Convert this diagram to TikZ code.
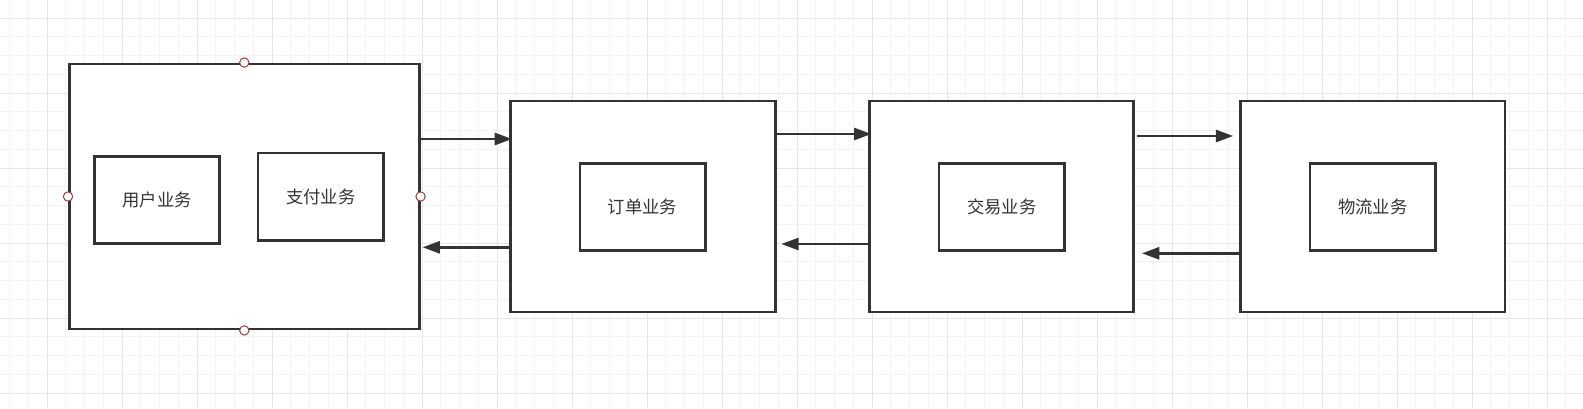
\documentclass[tikz,border=0pt]{standalone}
\usepackage{fontspec}
\setmainfont{Noto Sans CJK SC}
\usetikzlibrary{arrows.meta}

\definecolor{lineGray}{HTML}{333333}
\definecolor{gridMinor}{HTML}{F3F3F3}
\definecolor{gridMajor}{HTML}{E6E6E6}
\definecolor{handleRed}{HTML}{A8383E}

\begin{document}
\begin{tikzpicture}[x=0.75pt,y=-0.75pt,
	outerBox/.style={draw=lineGray, line width=1.9pt, fill=white, inner sep=0pt},
	innerBox/.style={draw=lineGray, line width=1.9pt, fill=white, inner sep=0pt,
		minimum width=94pt, minimum height=65.5pt, text=lineGray,
		font=\fontsize{13pt}{15pt}\selectfont},
	flow/.style={draw=lineGray, line width=1.9pt, -{Triangle[length=13pt,width=9pt]}},
	handle/.style={circle, draw=handleRed, fill=white, line width=0.75pt,
		minimum size=7pt, inner sep=0pt}]

\useasboundingbox (0,0) rectangle (1583,408);
\fill[white] (0,0) rectangle (1583,408);

% background grid
\foreach \k in {0,...,83}
	\draw[gridMinor, line width=0.75pt] ({9.5+\k*18.75},0) -- ({9.5+\k*18.75},408);
\foreach \k in {0,...,20}
	\draw[gridMinor, line width=0.75pt] (0,{18+\k*18.75}) -- (1583,{18+\k*18.75});
\foreach \k in {0,...,20}
	\draw[gridMajor, line width=0.75pt] ({47+\k*75},0) -- ({47+\k*75},408);
\foreach \k in {0,...,5}
	\draw[gridMajor, line width=0.75pt] (0,{18+\k*75}) -- (1583,{18+\k*75});

% outer boxes
\node[outerBox, minimum width=262.5pt, minimum height=199pt] (userPay) at (244.3,196.5) {};
\node[outerBox, minimum width=198.5pt, minimum height=158.5pt] (order) at (643,206.5) {};
\node[outerBox, minimum width=198pt, minimum height=158.5pt] (trade) at (1001.3,206.5) {};
\node[outerBox, minimum width=198.5pt, minimum height=158.5pt] (logistics) at (1372.8,206.5) {};

% inner services
\node[innerBox] (userSvc) at (157,200) {用户业务};
\node[innerBox] (paySvc) at (320.8,196.8) {支付业务};
\node[innerBox] (orderSvc) at (642.6,207) {订单业务};
\node[innerBox] (tradeSvc) at (1001.8,207) {交易业务};
\node[innerBox] (logisticsSvc) at (1372.8,207) {物流业务};

% calls between services
\draw[flow, shorten >=-2pt] (userPay.east |- 0,139) -- (order.west |- 0,139);
\draw[flow, shorten >=1.5pt] (order.west |- 0,247.3) -- (userPay.east |- 0,247.3);
\draw[flow, shorten >=-2.5pt] (order.east |- 0,134) -- (trade.west |- 0,134);
\draw[flow, shorten >=3.5pt] (trade.west |- 0,244) -- (order.east |- 0,244);
\draw[flow, shorten <=2pt, shorten >=4.5pt] (trade.east |- 0,136) -- (logistics.west |- 0,136);
\draw[flow, shorten >=5.5pt] (logistics.west |- 0,253.3) -- (trade.east |- 0,253.3);

% selection handles
\foreach \side in {north,south,east,west}
	\node[handle] (handle-\side) at (userPay.\side) {};
\end{tikzpicture}
\end{document}
